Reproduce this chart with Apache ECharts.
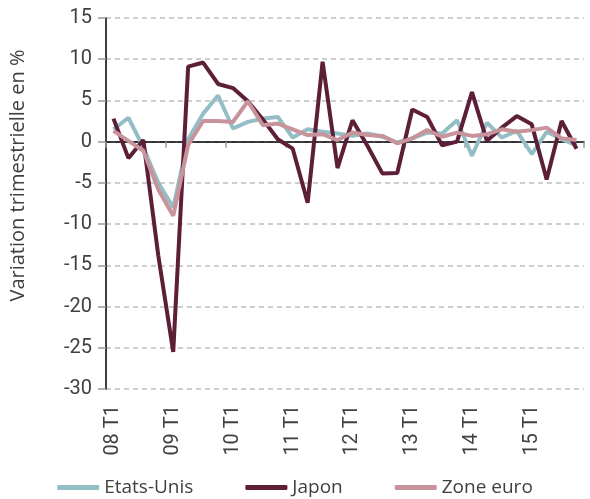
<!DOCTYPE html>
<html>
<head>
<meta charset="utf-8">
<script src="https://cdn.jsdelivr.net/npm/echarts@6/dist/echarts.min.js"></script>
<style>
  html, body { margin: 0; padding: 0; background: #fff; }
  #chart { width: 590px; height: 499px; }
</style>
</head>
<body>
<div id="chart"></div>
<script>
const categories = [
  '08 T1', '08 T2', '08 T3', '08 T4', '09 T1', '09 T2', '09 T3', '09 T4',
  '10 T1', '10 T2', '10 T3', '10 T4', '11 T1', '11 T2', '11 T3', '11 T4',
  '12 T1', '12 T2', '12 T3', '12 T4', '13 T1', '13 T2', '13 T3', '13 T4',
  '14 T1', '14 T2', '14 T3', '14 T4', '15 T1', '15 T2', '15 T3', '15 T4'
]
const etatsUnis = [
  1.5, 2.9, -0.7, -5.0, -8.0, 0.3, 3.4, 5.6,
  1.6, 2.4, 2.8, 3.0, 0.5, 1.5, 1.2, 1.0,
  0.7, 1.0, 0.6, -0.1, 0.4, 1.1, 1.0, 2.6,
  -1.7, 2.3, 0.5, 1.3, -1.5, 1.2, 0.3, -0.45
]
const japon = [
  2.8, -2.0, 0.2, -13.8, -25.5, 9.1, 9.6, 7.0,
  6.5, 4.9, 2.7, 0.3, -0.85, -7.4, 9.7, -3.2,
  2.6, -0.5, -3.85, -3.8, 3.9, 3.0, -0.45, 0.0,
  6.0, 0.1, 1.7, 3.1, 2.1, -4.6, 2.5, -0.85
]
const zoneEuro = [
  1.3, 0.1, -1.1, -5.8, -9.0, -0.4, 2.5, 2.5,
  2.4, 4.9, 2.0, 2.2, 1.5, 0.8, 0.9, 0.2,
  1.1, 0.8, 0.7, -0.2, 0.4, 1.4, 0.6, 1.1,
  0.7, 0.9, 1.5, 1.2, 1.4, 1.7, 0.4, 0.2
]

const textColor = '#404040'
const tickFont = 'Roboto, "Liberation Sans", sans-serif'
const textFont = '"Open Sans", "Noto Sans", sans-serif'

const chart = echarts.init(document.getElementById('chart'))

function line(name, data, color) {
  return {
    name,
    type: 'line',
    data,
    xAxisIndex: 0,
    symbol: 'none',
    lineStyle: { width: 4, color },
    itemStyle: { color },
    animation: false
  }
}

chart.setOption({
  animation: false,
  grid: { left: 104, right: 6, top: 18, bottom: 110, containLabel: false },
  legend: {
    top: 473,
    left: 'center',
    itemWidth: 42,
    itemHeight: 5,
    itemGap: 52,
    icon: 'roundRect',
    textStyle: { fontFamily: textFont, fontSize: 19, color: textColor },
    data: ['Etats-Unis', 'Japon', 'Zone euro']
  },
  xAxis: [
    {
      type: 'category',
      data: categories,
      boundaryGap: true,
      axisLine: { onZero: true, lineStyle: { color: '#000', width: 1.5 } },
      axisTick: { show: true, interval: 3, length: 6, lineStyle: { color: '#999', width: 1.5 } },
      axisLabel: { show: false },
      splitLine: { show: false }
    },
    {
      type: 'category',
      data: categories,
      position: 'bottom',
      boundaryGap: true,
      axisLine: { show: false, onZero: false },
      axisTick: { show: false },
      axisLabel: {
        interval: 3,
        rotate: 90,
        margin: 16,
        fontFamily: tickFont,
        fontSize: 20,
        color: textColor
      },
      splitLine: { show: false }
    }
  ],
  yAxis: {
    type: 'value',
    min: -30,
    max: 15,
    interval: 5,
    name: 'Variation trimestrielle en %',
    nameLocation: 'middle',
    nameGap: 78,
    nameTextStyle: { fontFamily: textFont, fontSize: 20, color: textColor, padding: [0, 0, 0, 56] },
    axisLine: { show: true, lineStyle: { color: '#000', width: 1.5 } },
    axisTick: { show: true, length: 8, lineStyle: { color: '#999', width: 1.5 } },
    axisLabel: { margin: 14, fontFamily: tickFont, fontSize: 20, color: textColor },
    splitLine: { show: true, lineStyle: { type: [5, 4], color: '#bfbfbf', width: 1.5 } }
  },
  series: [
    line('Etats-Unis', etatsUnis, '#93bec5'),
    line('Japon', japon, '#5c1f37'),
    line('Zone euro', zoneEuro, '#c8939b')
  ]
})
</script>
</body>
</html>
